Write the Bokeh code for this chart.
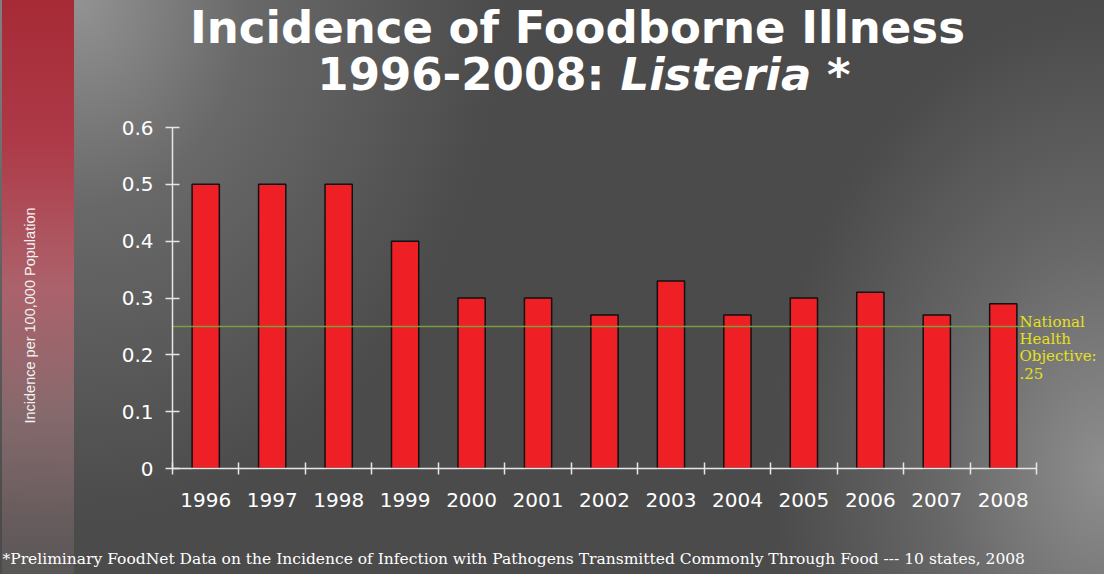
import math
from bokeh.plotting import figure
from bokeh.models import Range1d, FixedTicker, Label
from bokeh.embed import file_html
from bokeh.resources import INLINE

# ---- data ----
years = ["1996", "1997", "1998", "1999", "2000", "2001", "2002",
         "2003", "2004", "2005", "2006", "2007", "2008"]
incidence = [0.5, 0.5, 0.5, 0.4, 0.3, 0.3, 0.27, 0.33, 0.27, 0.3, 0.31, 0.27, 0.29]
y_ticks = [0, 0.1, 0.2, 0.3, 0.4, 0.5, 0.6]
y_tick_labels = ["0", "0.1", "0.2", "0.3", "0.4", "0.5", "0.6"]
y_max = 0.6
objective = 0.25
objective_lines = ["National", "Health", "Objective:", ".25"]
title_line1 = "Incidence of Foodborne Illness"
title_line2a = "1996-2008:"
title_line2b = "Listeria *"
y_label = "Incidence per 100,000 Population"
footnote = ("*Preliminary FoodNet Data on the Incidence of Infection with Pathogens "
            "Transmitted Commonly Through Food --- 10 states, 2008")

n = len(years)
centers = [i + 0.5 for i in range(n)]
bounds = list(range(n + 1))

# ---- geometry (canvas pixels) ----
W, H = 1104, 574
ax_left, ax_right = 172, 1036     # x axis extent
ax_top, ax_bottom = 127, 468      # y axis extent (from top)
px_x = (ax_right - ax_left) / n
px_y = (ax_bottom - ax_top) / y_max
x_range = Range1d(-ax_left / px_x, n + (W - ax_right) / px_x)
y_range = Range1d(-(H - ax_bottom) / px_y, y_max + ax_top / px_y)

p = figure(width=W, height=H, output_backend="svg", toolbar_location=None,
           x_range=x_range, y_range=y_range,
           min_border_left=0, min_border_right=0,
           min_border_top=0, min_border_bottom=0)

p.background_fill_color = None
p.border_fill_color = None
p.outline_line_color = None
p.styles = {
    "background": (
        "linear-gradient(to bottom, rgba(166,42,54,1) 0%, rgba(174,58,72,1) 25%, "
        "rgba(178,98,108,0.92) 50%, rgba(150,112,116,0.75) 72%, rgba(105,100,100,0.45) 100%) "
        "2px 0 / 72px 100% no-repeat, "
        "radial-gradient(ellipse 420px 520px at 80px 0px, rgba(146,146,146,1) 0%, "
        "rgba(120,120,120,0.65) 40%, rgba(75,75,75,0) 100%), "
        "radial-gradient(ellipse 330px 460px at 1104px 470px, rgba(142,142,142,1) 0%, "
        "rgba(122,122,122,0.6) 50%, rgba(75,75,75,0) 100%), "
        "#4b4b4b"
    )
}

p.xgrid.visible = False
p.ygrid.visible = False

p.vbar(x=centers, top=incidence, width=0.41, fill_color="#ee1f25",
       line_color="#111111", line_width=1.5)

p.segment(x0=[0], x1=[n - 0.1], y0=[objective], y1=[objective],
          line_color="#7d9b3f", line_width=1.5)

axis_color = "#e6e6e6"
# x axis
xa = p.xaxis[0]
xa.fixed_location = 0
xa.bounds = (0, n)
xa.ticker = FixedTicker(ticks=centers, minor_ticks=bounds)
xa.major_label_overrides = {c: y for c, y in zip(centers, years)}
xa.major_tick_in = 0
xa.major_tick_out = 0
xa.minor_tick_in = 6
xa.minor_tick_out = 6
xa.minor_tick_line_color = axis_color
xa.minor_tick_line_width = 1.5
xa.axis_line_color = axis_color
xa.axis_line_width = 1.5
xa.major_label_text_color = "white"
xa.major_label_text_font = "DejaVu Sans"
xa.major_label_text_font_size = "20px"
xa.major_label_standoff = 18

# y axis
ya = p.yaxis[0]
ya.fixed_location = 0
ya.bounds = (0, y_max)
ya.ticker = FixedTicker(ticks=y_ticks)
ya.major_label_overrides = {t: s for t, s in zip(y_ticks, y_tick_labels)}
ya.major_tick_in = 7
ya.major_tick_out = 7
ya.minor_tick_line_color = None
ya.major_tick_line_color = axis_color
ya.major_tick_line_width = 1.5
ya.axis_line_color = axis_color
ya.axis_line_width = 1.5
ya.major_label_text_color = "white"
ya.major_label_text_font = "DejaVu Sans"
ya.major_label_text_font_size = "20px"
ya.major_label_standoff = 12


def lab(text, x, y, **kw):
    # screen units: x from left of canvas, y from bottom of canvas
    p.add_layout(Label(text=text, x=x, y=y, x_units="screen", y_units="screen", **kw))


lab(title_line1, 577, H - 27, text_align="center", text_baseline="alphabetic",
    text_font="DejaVu Sans", text_font_style="bold", text_font_size="45px",
    text_color="white")
lab(title_line2a, 604, H - 74, text_align="right", text_baseline="alphabetic",
    text_font="DejaVu Sans", text_font_style="bold", text_font_size="45px",
    text_color="white")
lab(title_line2b, 620, H - 74, text_align="left", text_baseline="alphabetic",
    text_font="DejaVu Sans", text_font_style="bold italic", text_font_size="45px",
    text_color="white")

lab(y_label, 29, H - 315, angle=math.pi / 2, text_align="center",
    text_baseline="middle", text_font="Liberation Sans", text_font_size="14.5px",
    text_color="#f2f2f2")

for i, line in enumerate(objective_lines):
    lab(line, 1019, H - 321 - i * 17.4, text_align="left", text_baseline="alphabetic",
        text_font="DejaVu Serif", text_font_size="15px", text_color="#e6e01e")

lab(footnote, 2, H - 558, text_align="left", text_baseline="alphabetic",
    text_font="DejaVu Serif", text_font_size="15.5px", text_color="white")

open("out.html", "w").write(file_html(p, INLINE))
